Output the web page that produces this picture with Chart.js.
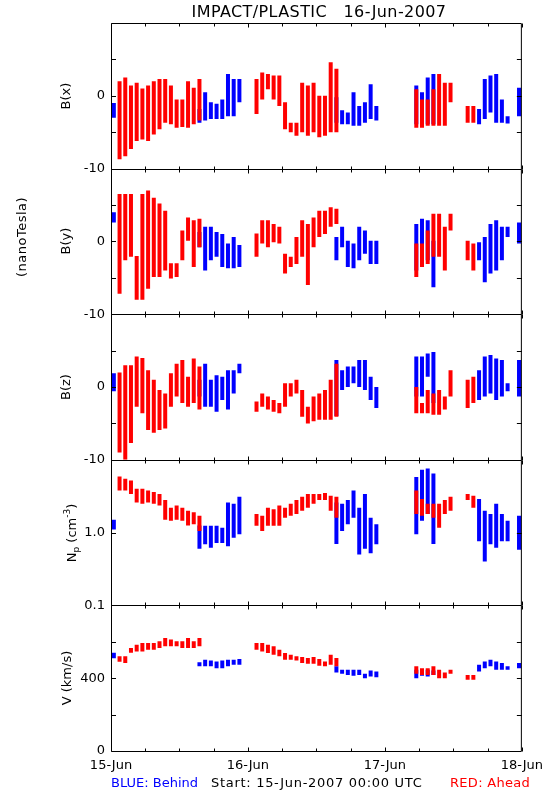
<!DOCTYPE html>
<html>
<head>
<meta charset="utf-8">
<title>IMPACT/PLASTIC 16-Jun-2007</title>
<script src="https://cdn.jsdelivr.net/npm/chart.js@4.4.1/dist/chart.umd.min.js"></script>
<style>
  body { margin: 0; background: #fff; }
  #wrap { position: relative; width: 550px; height: 800px; font-family: "DejaVu Sans", sans-serif; color: #000; }
  canvas { position: absolute; left: 0; top: 0; }
  .t { position: absolute; white-space: pre; font-size: 13px; line-height: 1; }
  .mid { transform: translate(-50%, -50%); }
  .rot { transform: translate(-50%, -50%) rotate(-90deg); }
  .vc { transform: translateY(-50%); }
  sub, sup { font-size: 9px; line-height: 0; }
</style>
</head>
<body>
<div id="wrap">
  <canvas id="plastic" width="550" height="800"></canvas>
  <div class="t mid" style="left:319px;top:12px;font-size:16px;letter-spacing:0.4px">IMPACT/PLASTIC   16-Jun-2007</div>
  <div class="t rot" style="left:21px;top:237px;letter-spacing:0.5px">(nanoTesla)</div>
  <div class="t rot" style="left:65px;top:96px">B(x)</div>
  <div class="t rot" style="left:65px;top:241px">B(y)</div>
  <div class="t rot" style="left:65px;top:387px">B(z)</div>
  <div class="t rot" style="left:71px;top:533px">N<sub>p</sub> (cm<sup>-3</sup>)</div>
  <div class="t rot" style="left:66px;top:678px">V (km/s)</div>
  <div class="t vc" style="left:111px;top:782px;color:#0000ff">BLUE: Behind</div>
  <div class="t vc" style="left:211px;top:782px;letter-spacing:0.7px">Start: 15-Jun-2007 00:00 UTC</div>
  <div class="t vc" style="left:450px;top:782px;color:#ff0000;letter-spacing:0.3px">RED: Ahead</div>
</div>
<script>
// hour (since 15-Jun 00:00 UTC) of each hourly bin that has data
const aheadHours = [1, 2, 3, 4, 5, 6, 7, 8, 9, 10, 11, 12, 13, 14, 15,
  25, 26, 27, 28, 29, 30, 31, 32, 33, 34, 35, 36, 37, 38, 39,
  53, 54, 55, 56, 57, 58, 59,
  62, 63];
const behindHours = [0,
  15, 16, 17, 18, 19, 20, 21, 22,
  39, 40, 41, 42, 43, 44, 45, 46,
  53, 54, 55, 56,
  64, 65, 66, 67, 68, 69,
  71];

// [low, high] of the points in each hourly bin
const bxAhead = [
  [-8.7, 2.0], [-8.3, 2.5], [-7.3, 1.4], [-6.2, 1.8], [-6.0, 1.0], [-6.2, 1.4], [-5.3, 2.0], [-4.6, 2.3], [-3.7, 2.3], [-3.9, 1.4], [-4.4, -0.5], [-4.3, -0.5], [-4.4, 2.0], [-3.9, 1.1], [-3.4, 2.3],
  [-2.5, 2.3], [-0.5, 3.2], [0.9, 3.0], [-0.5, 2.8], [-1.4, 2.8], [-4.6, -0.9], [-5.0, -3.7], [-5.5, -3.7], [-5.0, 1.8], [-5.5, 1.4], [-5.0, 1.8], [-5.7, 0.0], [-5.5, 0.0], [-5.0, 4.6], [-5.0, 3.7],
  [-4.4, 0.9], [-4.4, -0.5], [-4.1, -0.5], [-4.1, 0.9], [-4.1, 3.0], [-4.1, 1.8], [-0.9, 1.8],
  [-3.7, -1.4], [-3.7, -1.4]
];
const bxBehind = [
  [-3.0, -1.0],
  [-3.7, -1.8], [-3.4, 0.5], [-3.2, -0.9], [-3.2, -1.1], [-3.2, -0.5], [-2.8, 3.0], [-2.8, 2.3], [-0.9, 2.3],
  [-3.7, -0.2], [-3.9, -2.0], [-3.9, -2.3], [-4.1, 0.5], [-4.1, -1.4], [-3.7, -0.9], [-3.2, 1.6], [-3.4, -1.4],
  [-3.9, 1.4], [-3.9, 0.5], [-3.9, 2.5], [-3.9, 3.0],
  [-3.9, -1.8], [-3.2, 2.3], [-2.3, 2.8], [-3.7, 3.0], [-3.7, -0.5], [-3.8, -2.8],
  [-2.8, 1.1]
];
const byAhead = [
  [-7.2, 6.5], [-2.6, 6.5], [-2.1, 6.5], [-8.0, -2.0], [-8.0, 6.5], [-6.5, 7.0], [-4.9, 6.0], [-4.9, 5.2], [-4.0, 4.2], [-5.1, -3.0], [-4.9, -3.0], [-2.6, 1.5], [0.1, 3.3], [-3.5, 2.9], [-0.8, 3.1],
  [-2.1, 1.1], [-0.3, 2.9], [-0.8, 2.9], [-0.1, 2.4], [-0.3, 2.0], [-4.4, -1.7], [-3.5, -2.1], [-3.1, 0.6], [-2.1, 2.9], [-6.0, 2.4], [-0.8, 3.3], [0.6, 4.2], [1.0, 4.2], [2.0, 4.7], [2.4, 4.5],
  [-4.9, -0.3], [-3.5, -0.3], [-3.1, 1.5], [-2.1, 3.8], [-2.1, 3.8], [-4.0, 2.0], [1.5, 3.8],
  [-2.6, 0.1], [-4.0, -0.3]
];
const byBehind = [
  [2.6, 4.0],
  [-0.8, 1.3], [-4.0, 2.0], [-2.6, 2.0], [-2.1, 1.3], [-3.5, 1.0], [-3.7, -0.3], [-3.7, 0.6], [-3.5, -0.5],
  [-2.6, 0.6], [-0.8, 2.0], [-3.5, 0.1], [-3.7, -0.3], [-2.6, 2.0], [-1.7, 1.5], [-3.1, 0.1], [-3.1, 0.1],
  [-4.0, 2.4], [-3.5, 3.1], [-2.6, 2.9], [-6.3, 0.1],
  [-2.6, -0.1], [-5.6, 0.6], [-4.4, 2.4], [-4.0, 2.9], [-2.6, 2.0], [0.6, 2.0],
  [-0.3, 2.6]
];
const bzAhead = [
  [-9.0, 2.0], [-10.0, 3.0], [-7.7, 3.0], [-2.7, 4.2], [-3.6, 4.0], [-5.9, 2.3], [-6.3, 1.0], [-5.9, -0.4], [-5.7, -0.9], [-2.7, 1.9], [-1.3, 3.2], [-2.2, 3.7], [-2.7, 1.4], [-2.2, 3.9], [-3.1, 2.8],
  [-3.4, -2.0], [-2.7, -0.9], [-3.1, -1.3], [-3.4, -1.8], [-3.6, -2.2], [-2.7, 0.5], [-1.3, 0.5], [-0.9, 1.0], [-4.1, -0.4], [-5.0, -2.7], [-4.7, -1.3], [-4.5, -0.9], [-4.5, -0.4], [-4.5, 1.0], [-4.1, 3.2],
  [-3.6, 0.0], [-3.6, -2.2], [-3.6, -0.4], [-3.8, -0.9], [-3.8, -0.4], [-3.1, -1.3], [-1.3, 2.3],
  [-2.9, 1.0], [-2.2, 1.4]
];
const bzBehind = [
  [-0.6, 1.9],
  [-1.3, 1.0], [-2.7, 3.2], [-2.7, 1.0], [-3.4, 1.6], [-1.8, 1.4], [-3.1, 2.3], [-0.9, 2.3], [1.9, 3.2],
  [-4.0, 3.7], [-0.4, 2.3], [0.0, 2.8], [0.5, 2.8], [0.0, 3.7], [-0.4, 3.7], [-1.8, 1.4], [-2.9, 0.0],
  [-1.3, 4.2], [-1.3, 4.2], [1.4, 4.6], [-2.2, 4.8],
  [-1.8, 2.3], [-1.3, 4.2], [-0.9, 4.4], [-1.8, 3.9], [-1.3, 3.7], [-0.6, 0.5],
  [-1.3, 3.7]
];
const npAhead = [
  [3.8, 5.9], [3.8, 5.5], [3.4, 5.2], [2.6, 4.0], [2.5, 4.0], [2.6, 3.8], [2.5, 3.6], [2.35, 3.4], [1.5, 2.8], [1.45, 2.2], [1.5, 2.35], [1.45, 2.2], [1.25, 2.0], [1.3, 1.9], [1.05, 1.7],
  [1.24, 1.8], [1.05, 1.7], [1.24, 2.2], [1.24, 2.1], [1.24, 2.35], [1.6, 2.2], [1.7, 2.5], [1.8, 2.8], [2.0, 3.1], [2.2, 3.4], [2.5, 3.4], [2.8, 3.4], [2.8, 3.5], [2.0, 3.2], [1.6, 3.1],
  [1.8, 3.8], [1.7, 2.9], [1.8, 2.5], [1.6, 2.5], [1.17, 2.5], [1.8, 2.8], [2.0, 3.1],
  [2.8, 3.4], [2.2, 3.2]
];
const npBehind = [
  [1.1, 1.5],
  [0.6, 1.25], [0.69, 1.24], [0.62, 1.24], [0.72, 1.24], [0.72, 1.17], [0.65, 2.6], [0.85, 2.5], [0.95, 3.1],
  [0.7, 2.6], [1.05, 2.5], [1.3, 2.8], [1.6, 3.8], [0.5, 2.2], [0.6, 3.4], [0.52, 1.6], [0.69, 1.3],
  [0.95, 5.8], [1.45, 7.3], [1.8, 7.6], [0.7, 6.5],
  [0.76, 2.9], [0.4, 2.0], [0.69, 1.8], [0.62, 2.5], [0.76, 1.8], [0.76, 1.45],
  [0.58, 1.7]
];
const vAhead = [
  [490, 520], [483, 520], [540, 566], [547, 584], [547, 594], [556, 594], [556, 594], [566, 603], [575, 621], [575, 612], [575, 603], [566, 603], [566, 621], [566, 603], [575, 621],
  [556, 594], [547, 594], [538, 584], [529, 575], [520, 556], [501, 538], [501, 529], [497, 520], [483, 516], [479, 511], [479, 516], [468, 505], [465, 492], [474, 529], [465, 511],
  [424, 465], [418, 455], [418, 455], [418, 465], [400, 446], [400, 431], [424, 446],
  [391, 418], [391, 418]
];
const vBehind = [
  [510, 540],
  [465, 487], [465, 501], [465, 497], [455, 492], [455, 497], [465, 501], [474, 501], [474, 505],
  [431, 465], [424, 446], [418, 446], [413, 446], [418, 446], [400, 424], [409, 442], [405, 437],
  [400, 446], [413, 446], [409, 446], [418, 442],
  [437, 474], [455, 492], [465, 501], [446, 492], [446, 483], [446, 465],
  [455, 483]
];

// axis ticks and labels
const xTicks = [0, 6, 12, 18, 24, 30, 36, 42, 48, 54, 60, 66, 72];
const dayLabels = ['15-Jun', '16-Jun', '17-Jun', '18-Jun'];
const bTicks = [-10, -5, 0, 5, 10];
const bLabels = ['-10', '', '0', '', ''];
const npTicks = [0.1, 1, 10];
const npLabels = ['0.1', '1.0', ''];
const vTicks = [0, 200, 400, 600, 800];
const vLabels = ['0', '', '400', '', ''];

const RED = '#ff0000', BLUE = '#0000ff';
const FONT = { family: '"DejaVu Sans", sans-serif', size: 13 };

const panels = [
  { id: 'bx', ahead: bxAhead, behind: bxBehind },
  { id: 'by', ahead: byAhead, behind: byBehind },
  { id: 'bz', ahead: bzAhead, behind: bzBehind },
  { id: 'np', ahead: npAhead, behind: npBehind },
  { id: 'v', ahead: vAhead, behind: vBehind }
];

// each hourly bin is one thin floating bar, leaving a small gap so it reads as streaks
function bars(hours, ranges, axis, color) {
  return {
    yAxisID: axis,
    backgroundColor: color,
    grouped: false,
    barPercentage: 0.7,
    categoryPercentage: 1,
    data: hours.map((h, i) => ({ x: h + 0.5, y: ranges[i] }))
  };
}

const datasets = [];
panels.forEach(p => {
  datasets.push(bars(aheadHours, p.ahead, p.id, RED));
  datasets.push(bars(behindHours, p.behind, p.id, BLUE));
});

function yAxis(weight, extra, tickValues, labels) {
  return Object.assign({
    position: 'left',
    stack: 'panels',
    stackWeight: 1,
    weight: weight,
    grid: { display: false, drawTicks: false },
    border: { display: false },
    afterBuildTicks: s => { s.ticks = tickValues.map(v => ({ value: v })); },
    afterFit: s => { s.width = 111; },
    ticks: { autoSkip: false, color: '#000', font: FONT, padding: 6, callback: (v, i) => labels[i] }
  }, extra);
}

// inward tick marks and the box round each panel
const frame = {
  id: 'frame',
  afterDraw(chart) {
    const { ctx, chartArea } = chart;
    const left = chartArea.left, right = chartArea.right;
    const x = chart.scales.x;
    ctx.save();
    ctx.strokeStyle = '#000';
    ctx.lineWidth = 1;
    ctx.beginPath();
    panels.forEach(p => {
      const s = chart.scales[p.id];
      const top = Math.round(s.top) + 0.5, bottom = Math.round(s.bottom) + 0.5;
      ctx.rect(left + 0.5, top, right - left - 1, bottom - top);
      s.ticks.forEach(t => {
        const y = Math.round(s.getPixelForValue(t.value)) + 0.5;
        if (y <= top + 1 || y >= bottom - 1) return;
        ctx.moveTo(left, y); ctx.lineTo(left + 5, y);
        ctx.moveTo(right - 5, y); ctx.lineTo(right, y);
      });
      x.ticks.forEach(t => {
        const px = Math.round(x.getPixelForValue(t.value)) + 0.5;
        const len = t.value % 24 === 0 ? 4 : 3;
        ctx.moveTo(px, bottom); ctx.lineTo(px, bottom - len);
        ctx.moveTo(px, top); ctx.lineTo(px, top + len);
      });
    });
    ctx.stroke();
    ctx.restore();
  }
};

new Chart(document.getElementById('plastic'), {
  type: 'bar',
  data: { datasets },
  options: {
    responsive: false,
    animation: false,
    devicePixelRatio: 1,
    layout: { padding: { left: 0, right: 23, top: 23, bottom: 23 } },
    plugins: { legend: { display: false }, tooltip: { enabled: false } },
    scales: {
      x: {
        type: 'linear', min: 0, max: 72, offset: false,
        grid: { display: false, drawTicks: false, offset: false },
        border: { display: false },
        afterBuildTicks: s => { s.ticks = xTicks.map(v => ({ value: v })); },
        afterFit: s => { s.height = 26; },
        ticks: {
          autoSkip: false, maxRotation: 0, color: '#000', font: FONT, padding: 7,
          callback: v => (v % 24 === 0 ? dayLabels[v / 24] : '')
        }
      },
      bx: yAxis(5, { type: 'linear', min: -10, max: 10 }, bTicks, bLabels),
      by: yAxis(4, { type: 'linear', min: -10, max: 10 }, bTicks, bLabels),
      bz: yAxis(3, { type: 'linear', min: -10, max: 10 }, bTicks, bLabels),
      np: yAxis(2, { type: 'logarithmic', min: 0.1, max: 10 }, npTicks, npLabels),
      v: yAxis(1, { type: 'linear', min: 0, max: 800 }, vTicks, vLabels)
    }
  },
  plugins: [frame]
});
</script>
</body>
</html>
